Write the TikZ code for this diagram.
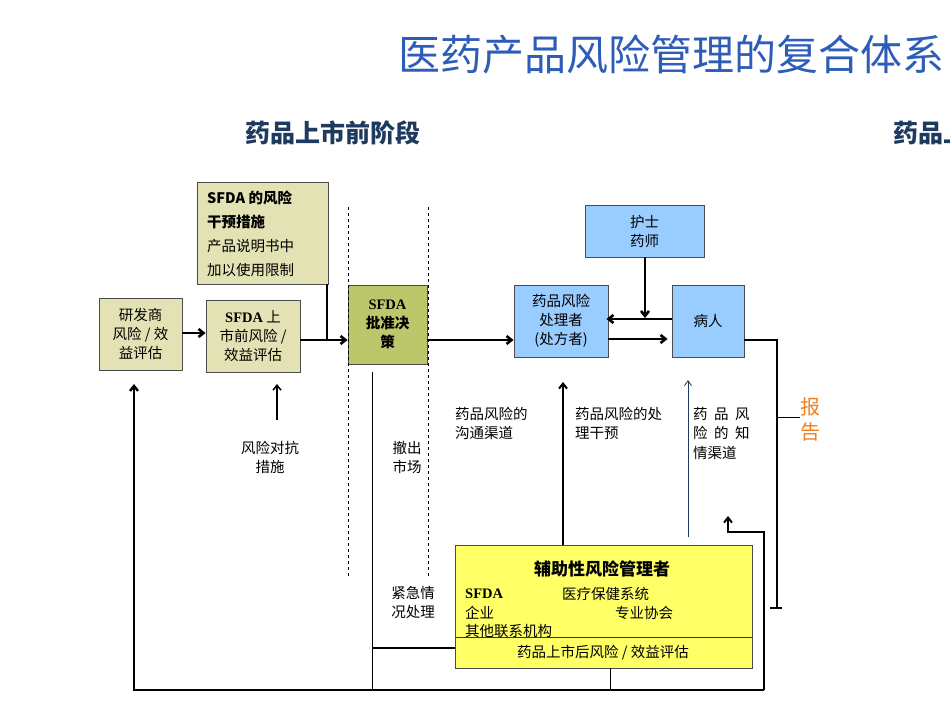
\documentclass[tikz,border=0pt]{standalone}
\usepackage{fontspec}
\setmainfont{Noto Sans CJK SC}
\newfontfamily\serifen{Liberation Serif}
\usetikzlibrary{arrows.meta}
\definecolor{khaki}{HTML}{E2E2B4}
\definecolor{olive}{HTML}{BCC66A}
\definecolor{lblue}{HTML}{99CCFF}
\definecolor{ylw}{HTML}{FFFF66}
\definecolor{ttl}{HTML}{2E5DB8}
\definecolor{dkblue}{HTML}{1F3A5F}
\definecolor{orng}{HTML}{F07F1A}
\begin{document}
\begin{tikzpicture}[x=1pt,y=-1pt,
  bx/.style={draw=black!70,line width=0.8pt,inner sep=0pt},
  lab/.style={font=\fontsize{14.5}{19}\selectfont,align=center,inner sep=0pt},
  ll/.style={font=\fontsize{14.5}{19.5}\selectfont,align=left,anchor=north west,inner sep=0pt},
  thick1/.style={line width=2.6pt},
  arr/.style={-{Straight Barb[length=5pt,width=8pt]}},
  thin1/.style={line width=1pt}]
\useasboundingbox (0,0) rectangle (950,713);
\node[anchor=west,text=ttl,font=\fontsize{42}{46}\selectfont,inner sep=0pt] (title) at (398,55) {医药产品风险管理的复合体系};
\node[text=dkblue,font=\fontsize{25}{28}\selectfont\bfseries,inner sep=0pt] (pre) at (333,133) {药品上市前阶段};
\node[anchor=west,text=dkblue,font=\fontsize{25}{28}\selectfont\bfseries,inner sep=0pt] (post) at (893,133) {药品上市后阶段};
% boxes
\node[bx,fill=khaki,minimum width=131pt,minimum height=102pt] (interv) at (262.5,233) {};
\node[ll,font=\fontsize{14.5}{24}\selectfont] (intt) at (207,191) {\bfseries SFDA 的风险\\ \bfseries 干预措施\\产品说明书中\\加以使用限制};
\node[bx,fill=khaki,minimum width=83pt,minimum height=72pt,lab] (dev) at (140.5,334) {研发商\\风险 / 效\\益评估};
\node[bx,fill=khaki,minimum width=94pt,minimum height=72pt,lab] (pre2) at (253,336) {{\serifen\bfseries SFDA} 上\\市前风险 /\\效益评估};
\node[bx,fill=olive,minimum width=79pt,minimum height=79pt,lab,font=\fontsize{14.5}{19}\selectfont\bfseries] (appr) at (387.5,324.5) {{\serifen SFDA}\\批准决\\策};
\node[bx,fill=lblue,minimum width=94pt,minimum height=72pt,lab] (hand) at (561,321) {药品风险\\处理者\\(处方者)};
\node[bx,fill=lblue,minimum width=119pt,minimum height=52pt,lab] (nurse) at (644.5,231) {护士\\药师};
\node[bx,fill=lblue,minimum width=72pt,minimum height=72pt,lab] (pat) at (708,321) {病人};
\node[bx,fill=ylw,minimum width=297pt,minimum height=123pt] (aux) at (603.5,606.5) {};
\draw[black!80,line width=0.8pt] (455,637) -- (752,637);
\node[lab,font=\fontsize{17}{19}\selectfont\bfseries] (auxt) at (602,569) {辅助性风险管理者};
\node[ll,anchor=west,font=\fontsize{14.5}{19}\selectfont\serifen\bfseries] (s1) at (465,594) {SFDA};
\node[ll,anchor=west] (s2) at (562,594) {医疗保健系统};
\node[ll,anchor=west] (s3) at (465,613) {企业};
\node[ll,anchor=west] (s4) at (615,613) {专业协会};
\node[ll,anchor=west] (s5) at (465,631) {其他联系机构};
\node[lab] (postev) at (603,653) {药品上市后风险 / 效益评估};
% dashed lines
\coordinate (d1a) at (348,207); \coordinate (d1b) at (348,578);
\coordinate (d2a) at (428,207); \coordinate (d2b) at (428,578);
\draw[dashed,thin1] (d1a) -- (d1b);
\draw[dashed,thin1] (d2a) -- (d2b);
% labels
\node[lab] (l1) at (270,457) {风险对抗\\措施};
\node[lab] (l2) at (407,457) {撤出\\市场};
\node[lab] (l3) at (413,602) {紧急情\\况处理};
\node[ll] (l4) at (455,407) {药品风险的\\沟通渠道};
\node[ll] (l5) at (575,407) {药品风险的处\\理干预};
\node[ll] (l6) at (693,407) {药\ \ 品\ \ 风\\险\ \ 的\ \ 知\\情渠道};
\node[text=orng,font=\fontsize{20}{25}\selectfont,align=center,inner sep=0pt] (rep) at (810,419) {报\\告};
% main arrows
\draw[thick1,arr] (dev.east |- 0,333) -- (pre2.west |- 0,333);
\draw[thick1,arr] (pre2.east |- 0,340) -- (appr.west |- 0,340);
\draw[thick1] (interv.south -| 327,0) -- (327,340);
\draw[thick1,arr] (appr.east |- 0,340) -- (hand.west |- 0,340);
\draw[thick1,arr] (hand.east |- 0,339) -- ([xshift=-4pt]pat.west |- 0,339);
\draw[thick1,arr] (pat.west |- 0,319) -- ([xshift=-2pt]hand.east |- 0,319);
\draw[thick1,arr] (nurse.south -| 645,0) -- (645,318);
% patient report
\coordinate (r1) at (777,340); \coordinate (r2) at (777,608);
\draw[line width=2pt] (pat.east |- r1) -- (r1) -- (r2);
\draw[line width=2pt] (770,608) -- (782,608);
\draw[line width=0.8pt] (777,417) -- (rep.west |- 0,417);
% upward arrows
\draw[line width=2pt,arr] (aux.north -| 563,0) -- (563,382);
\draw[line width=0.8pt,dkblue,-{Straight Barb[length=5pt,width=7pt]}] (688,537) -- (688,380);
% bottom loop
\coordinate (b0) at (134,690); \coordinate (b1) at (764,690);
\coordinate (b2) at (764,532); \coordinate (b3) at (728,532);
\draw[line width=2pt,arr] (b1) -- (b2) -- (b3) -- (728,516);
\draw[line width=2.4pt,arr] (b1) -- (b0) -- (134,384);
\draw[line width=1.5pt,arr] (277,420) -- (277,384);
% withdraw line
\draw[thin1] (372,372) -- (372,690);
\draw[line width=2pt] (372,648) -- (aux.west |- 0,648);
\draw[thin1] (aux.south -| 610,0) -- (610,690);
\end{tikzpicture}
\end{document}
